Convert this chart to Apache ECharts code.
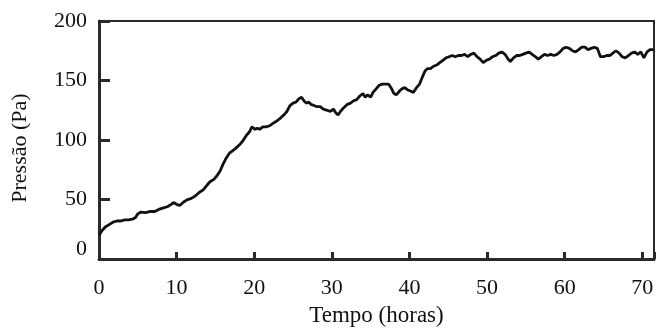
<!DOCTYPE html>
<html>
<head>
<meta charset="utf-8">
<script src="https://cdn.jsdelivr.net/npm/echarts@6/dist/echarts.min.js"></script>
<style>html,body{margin:0;padding:0;background:#fff}#c{width:657px;height:332px}</style>
</head>
<body>
<div id="c"></div>
<script>
const hours = [0,0.4,0.8,1.3,1.8,2.3,2.8,3.3,3.8,4.3,4.7,5.0,5.4,6.0,6.6,7.2,7.8,8.3,8.8,9.3,9.6,10.0,10.4,10.9,11.4,11.9,12.4,12.9,13.4,13.9,14.3,14.8,15.2,15.6,16.0,16.4,16.8,17.2,17.6,18.1,18.5,19.0,19.4,19.7,20.1,20.4,20.7,21.1,21.5,22.0,22.4,22.9,23.3,23.8,24.2,24.6,25.0,25.4,25.8,26.1,26.4,26.7,27.0,27.3,27.7,28.1,28.5,28.9,29.4,29.8,30.2,30.5,30.8,31.1,31.5,32.0,32.4,32.8,33.2,33.6,34.0,34.3,34.6,35.0,35.3,35.7,36.1,36.5,36.9,37.3,37.7,38.0,38.3,38.7,39.0,39.4,39.8,40.2,40.5,40.9,41.3,41.6,42.0,42.3,42.7,43.1,43.5,43.9,44.3,44.7,45.1,45.5,45.9,46.3,46.7,47.1,47.5,47.9,48.3,48.7,49.1,49.5,49.9,50.3,50.7,51.1,51.5,51.9,52.3,52.7,53.0,53.4,53.8,54.2,54.6,55.0,55.4,55.8,56.2,56.6,57.0,57.4,57.8,58.2,58.6,59.0,59.4,59.8,60.2,60.6,61.0,61.4,61.8,62.2,62.6,63.0,63.4,63.8,64.2,64.6,65.0,65.4,65.8,66.2,66.6,67.0,67.4,67.8,68.2,68.6,69.0,69.4,69.8,70.2,70.6,71.0,71.4];
const pressure = [20,24,27,29,31,32,32,33,33,33.5,35,38,39.5,39,40,40,42,43,44,46,47.5,46,45,48,50,51,53,56,58,62,65,67,70,74,80,85,89,91,93,96,99,104,107,111,109,110,109,111,111,112,114,116,118,121,124,129,131,132,135,136,133,131,132,130,129,128,128,126,125,124,126,123,121,124,127,130,131,133,134,137,139,136,138,136,140,143,146,147,147,147,143,139,138,141,143,144,142,141,140,144,147,152,158,160,160,162,163,165,167,169,170,171,170,171,171,172,170,172,173,170,168,165,167,168,170,171,173,174,172,168,166,169,171,171,172,173,174,172,170,168,170,172,171,172,171,172,174,177,178,177,175,174,176,178,178,176,177,178,177,170,170,171,171,173,175,173,170,169,171,173,174,172,174,169,174,176,176];
const xTicks = [0,10,20,30,40,50,60,70];
const yTicks = [0,50,100,150,200];
const xTitle = 'Tempo (horas)';
const yTitle = 'Pressão (Pa)';

const font = "'Liberation Serif','Times New Roman',serif";
const txt = '#111';
const chart = echarts.init(document.getElementById('c'), null, {renderer:'canvas'});
chart.setOption({
  animation:false,
  backgroundColor:'#fff',
  grid:{left:99,right:2,top:21,bottom:63,show:true,borderColor:'#2a2a2a',borderWidth:2,containLabel:false},
  xAxis:{
    type:'value',min:0,max:71.5,interval:10,
    name:xTitle,nameLocation:'middle',nameGap:38,
    nameTextStyle:{fontFamily:font,fontSize:23,color:txt},
    axisLine:{show:true,lineStyle:{color:'#2a2a2a',width:3}},
    axisTick:{show:true,inside:true,length:7,lineStyle:{color:'#2a2a2a',width:3}},
    splitLine:{show:false},
    axisLabel:{fontFamily:font,fontSize:22,color:txt,margin:18,
      formatter:v=> xTicks.includes(v) ? (v===60 ? '{r|60}' : String(v)) : '',
      rich:{r:{fontFamily:font,fontSize:22,color:txt,padding:[0,0,10,0]}}}
  },
  yAxis:{
    type:'value',min:0,max:200,interval:50,
    name:yTitle,nameLocation:'middle',nameGap:68,nameRotate:90,
    nameTextStyle:{fontFamily:font,fontSize:22,color:txt,padding:[0,16,0,0]},
    axisLine:{show:true,lineStyle:{color:'#2a2a2a',width:3}},
    axisTick:{show:true,inside:true,length:11,lineStyle:{color:'#2a2a2a',width:3}},
    splitLine:{show:false},
    axisLabel:{fontFamily:font,fontSize:22,color:txt,margin:12,
      formatter:v=> yTicks.includes(v) ? (v===0 ? '{z|0}' : String(v)) : '',
      rich:{z:{fontFamily:font,fontSize:22,color:txt,padding:[0,0,20,0]}}}
  },
  series:[{
    type:'line',
    data:hours.map((h,i)=>[h,pressure[i]]),
    showSymbol:false,symbol:'none',
    lineStyle:{color:'#111',width:2.8},
    smooth:false
  }]
});
</script>
</body>
</html>
